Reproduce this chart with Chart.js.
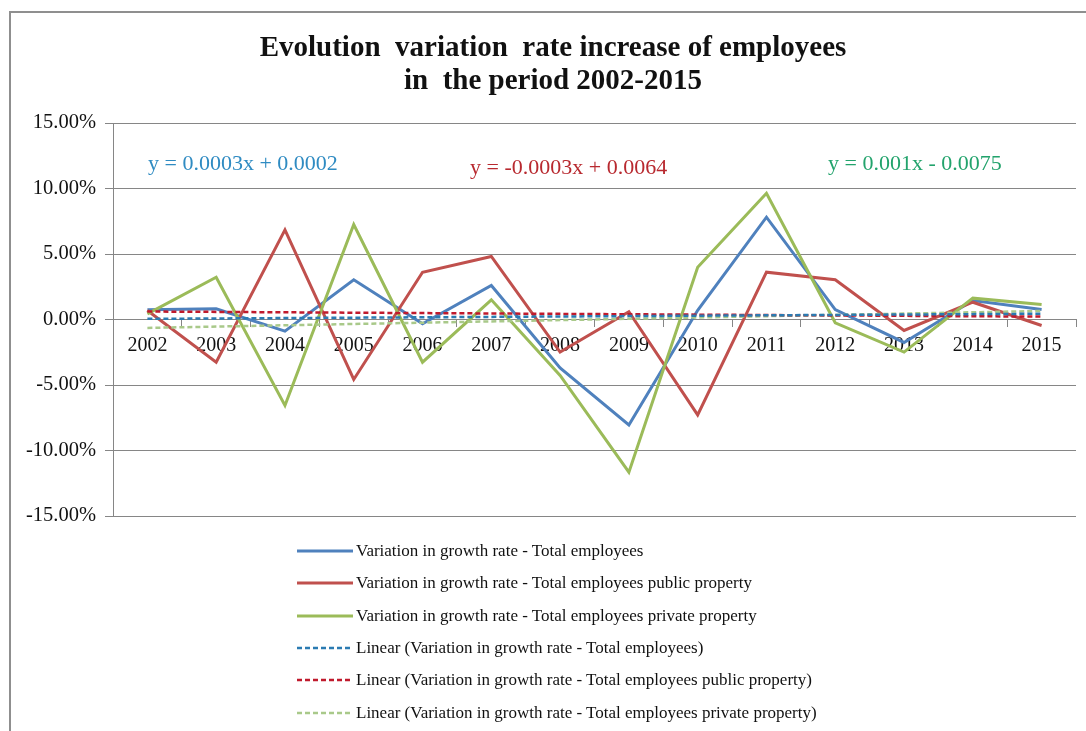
<!DOCTYPE html>
<html>
<head>
<meta charset="utf-8">
<script src="https://cdn.jsdelivr.net/npm/chart.js@4.4.1/dist/chart.umd.min.js"></script>
<style>
  html, body { margin: 0; padding: 0; background: #fff; }
  #wrap { position: relative; width: 1086px; height: 731px; overflow: hidden; background: #fff;
          font-family: "Liberation Serif", "Times New Roman", serif; }
  #frame { position: absolute; left: 9px; top: 11px; right: -10px; bottom: -10px;
           border-left: 2px solid #8f8f8f; border-top: 2px solid #8f8f8f; }
  #c { position: absolute; left: 0; top: 0; }
  #title { position: absolute; left: 0; width: 1106px; top: 30px; text-align: center;
           font-weight: bold; font-size: 29px; line-height: 33px; color: #111; white-space: pre; }
  .eq { position: absolute; font-size: 22px; line-height: 25px; white-space: nowrap; }
  #legend { position: absolute; left: 297px; top: 535px; font-size: 17px; color: #111; }
  .row { height: 32.3px; display: flex; align-items: center; white-space: nowrap; }
  .row svg { margin-right: 3px; }
</style>
</head>
<body>
<div id="wrap">
  <div id="frame"></div>
  <canvas id="c" width="1086" height="731"></canvas>
  <div id="title">Evolution  variation  rate increase of employees
in  the period 2002-2015</div>
  <div class="eq" id="eq0" style="left:148px; top:150px; color:#2f8bc2;">y = 0.0003x + 0.0002</div>
  <div class="eq" id="eq1" style="left:470px; top:154px; color:#b8292f;">y = -0.0003x + 0.0064</div>
  <div class="eq" id="eq2" style="left:828px; top:150px; color:#22a36c;">y = 0.001x - 0.0075</div>
  <div id="legend"></div>
</div>
<script>
// ---- data (percent) ----
const years = ['2002','2003','2004','2005','2006','2007','2008','2009','2010','2011','2012','2013','2014','2015'];
const totalEmployees   = [0.74, 0.82, -0.89, 3.03, -0.33, 2.60, -3.70, -8.05, 0.70, 7.81, 0.76, -1.75, 1.45, 0.76];
const publicProperty   = [0.69, -3.26, 6.84, -4.58, 3.61, 4.81, -2.49, 0.60, -7.28, 3.61, 3.03, -0.84, 1.32, -0.46];
const privateProperty  = [0.43, 3.23, -6.56, 7.25, -3.26, 1.50, -4.27, -11.65, 3.99, 9.64, -0.25, -2.49, 1.63, 1.15];
// trendline end values (first and last year)
const trendTotal   = [0.05, null, null, null, null, null, null, null, null, null, null, null, null, 0.44];
const trendPublic  = [0.61, null, null, null, null, null, null, null, null, null, null, null, null, 0.22];
const trendPrivate = [-0.64, null, null, null, null, null, null, null, null, null, null, null, null, 0.65];
const yTicks = [-15, -10, -5, 0, 5, 10, 15];

const seriesNames = [
  'Variation in growth rate - Total employees',
  'Variation in growth rate - Total employees public property',
  'Variation in growth rate - Total employees private property',
  'Linear (Variation in growth rate - Total employees)',
  'Linear (Variation in growth rate - Total employees public property)',
  'Linear (Variation in growth rate - Total employees private property)'
];
const colors = ['#4f81bd', '#c0504d', '#9bbb59', '#2b7bb2', '#c01a2c', '#a9c98a'];

const serif = '"Liberation Serif", "Times New Roman", serif';

function lineDs(label, data, color, order) {
  return { label, data, borderColor: color, backgroundColor: color, borderWidth: 3,
           pointRadius: 0, tension: 0, order, spanGaps: false };
}
function trendDs(label, data, color) {
  return { label, data, borderColor: color, backgroundColor: color, borderWidth: 2.5,
           borderDash: [5, 3], pointRadius: 0, tension: 0, order: 0, spanGaps: true };
}

const ch = new Chart(document.getElementById('c'), {
  type: 'line',
  data: {
    labels: years,
    datasets: [
      lineDs(seriesNames[0], totalEmployees, colors[0], 3),
      lineDs(seriesNames[1], publicProperty, colors[1], 2),
      lineDs(seriesNames[2], privateProperty, colors[2], 1),
      trendDs(seriesNames[3], trendTotal, colors[3]),
      trendDs(seriesNames[4], trendPublic, colors[4]),
      trendDs(seriesNames[5], trendPrivate, colors[5])
    ]
  },
  options: {
    responsive: false,
    devicePixelRatio: 1,
    animation: false,
    layout: { padding: { left: 10, right: 10, top: 123, bottom: 215 } },
    plugins: { legend: { display: false }, tooltip: { enabled: false }, title: { display: false } },
    scales: {
      x: {
        position: { y: 0 },
        offset: true,
        grid: { display: true, drawOnChartArea: false, drawTicks: true, tickLength: 7, offset: true, color: '#868686' },
        border: { display: true, color: '#868686', width: 1 },
        ticks: { color: '#111', font: { family: serif, size: 20 }, padding: 7, maxRotation: 0, autoSkip: false }
      },
      y: {
        min: -15, max: 15,
        afterFit: (s) => { s.width = 103; },
        afterBuildTicks: (s) => { s.ticks = yTicks.map(v => ({ value: v })); },
        grid: { color: '#868686', lineWidth: 1, tickLength: 8 },
        border: { display: true, color: '#868686', width: 1 },
        ticks: { color: '#111', font: { family: serif, size: 20.5 }, padding: 9,
                 callback: (v) => v.toFixed(2) + '%' }
      }
    }
  }
});

// ---- legend (HTML, generated from datasets) ----
const lg = document.getElementById('legend');
ch.data.datasets.forEach((ds) => {
  const row = document.createElement('div');
  row.className = 'row';
  const dash = ds.borderDash ? 'stroke-dasharray="5 3"' : '';
  const w = ds.borderDash ? 2.5 : 3;
  row.innerHTML = '<svg width="56" height="8"><line x1="0" y1="4" x2="56" y2="4" stroke="' + ds.borderColor +
                  '" stroke-width="' + w + '" ' + dash + '/></svg><span>' + ds.label + '</span>';
  lg.appendChild(row);
});
</script>
</body>
</html>
